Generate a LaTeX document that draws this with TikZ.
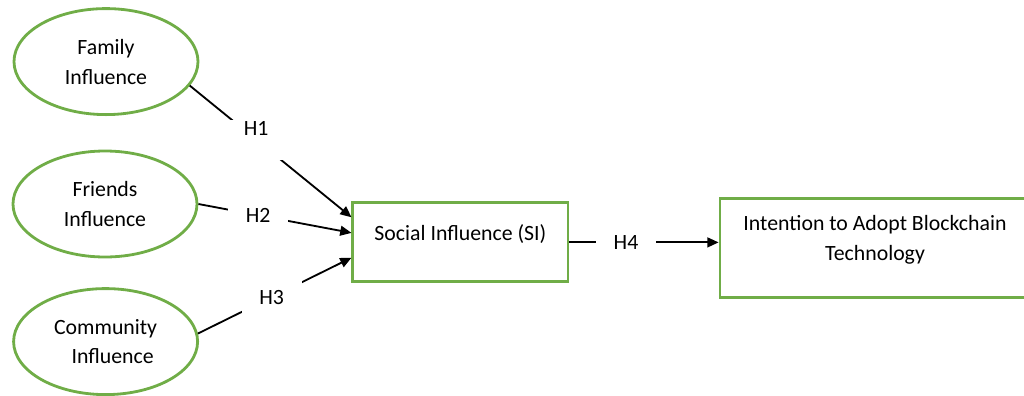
\documentclass[tikz,border=0pt]{standalone}
\usepackage{fontspec}
\setmainfont{Carlito}
\usetikzlibrary{arrows.meta,positioning,shapes.geometric}
\definecolor{boxgreen}{HTML}{70AD47}
\tikzset{
  factor/.style={draw=boxgreen,line width=2pt,ellipse,minimum width=4.6cm,minimum height=2.65cm,inner sep=0pt,align=center},
  construct/.style={draw=boxgreen,line width=2pt,rectangle,inner sep=0pt,align=center,text depth=13.5pt},
  hyp/.style={fill=white,minimum width=1.5cm,minimum height=1cm,inner sep=0pt}
}

\begin{document}
\begin{tikzpicture}[>={Triangle[length=8pt,width=7pt]},line width=1.3pt,
    font=\fontsize{15.5}{21.3}\selectfont]
  \useasboundingbox (0,0) rectangle (25.6,-9.9);

  \node[factor] (fam) at (2.65,-1.54) {Family\\Influence};
  \node[factor] (fri) at (2.625,-5.1) {Friends\\Influence};
  \node[factor] (com) at (2.64,-8.54) {Community\\\hspace{0.35cm}Influence};

  \node[construct,minimum width=5.375cm,minimum height=1.975cm] (si) at (11.51,-6.06) {Social Influence (SI)};
  \node[construct,minimum width=7.75cm,minimum height=2.475cm] (int) at (21.875,-6.19) {Intention to Adopt Blockchain\\Technology};

  \draw[->] (fam.-16) -- node[hyp,pos=0.41,text height=10pt,text depth=15.6pt] (h1) {H1} (si.167);
  \draw[->] (fri.0) -- node[hyp,pos=0.39] (h2) {H2} (si.175);
  \draw[->] (com.5) -- node[hyp,pos=0.48] (h3) {H3} (si.188);
  \draw[->] (si.east) -- node[hyp,pos=0.38] (h4) {H4} (si.east -| int.west);
\end{tikzpicture}
\end{document}
